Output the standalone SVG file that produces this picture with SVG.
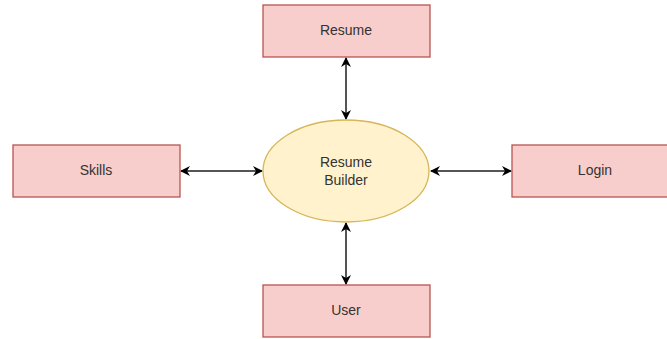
<svg xmlns="http://www.w3.org/2000/svg" width="667" height="339" viewBox="0 0 667 339">
<defs>
<style>
.box{fill:#f8cecc;stroke:#b85450;stroke-width:1.3}
.proc{fill:#fff2cc;stroke:#d6b656;stroke-width:1.3}
.lbl{font-family:"Liberation Sans",Arial,sans-serif;font-size:14px;fill:#333;text-anchor:middle;dominant-baseline:central}
.conn{stroke:#555;stroke-width:2;fill:none;marker-start:url(#ah);marker-end:url(#ah)}
</style>
<marker id="ah" viewBox="0 0 10 10" refX="9" refY="5" markerWidth="10" markerHeight="10" orient="auto-start-reverse" markerUnits="userSpaceOnUse">
<path d="M0,0 L10,5 L0,10 L3,5 Z" fill="#000"/>
</marker>
</defs>
<rect width="667" height="339" fill="#fff"/>
<g id="connectors">
<line class="conn" x1="346" y1="58" x2="346" y2="119"/>
<line class="conn" x1="181" y1="171" x2="262" y2="171"/>
<line class="conn" x1="431" y1="171" x2="511" y2="171"/>
<line class="conn" x1="346" y1="223" x2="346" y2="284"/>
</g>
<g id="resume"><rect class="box" x="263" y="5" width="167" height="52"/><text class="lbl" x="346" y="30">Resume</text></g>
<g id="skills"><rect class="box" x="13" y="145" width="167" height="52"/><text class="lbl" x="96" y="170">Skills</text></g>
<g id="login"><rect class="box" x="512" y="145" width="167" height="52"/><text class="lbl" x="595" y="170">Login</text></g>
<g id="user"><rect class="box" x="263" y="285" width="167" height="52"/><text class="lbl" x="346" y="310">User</text></g>
<g id="resume-builder"><ellipse class="proc" cx="346" cy="171" rx="83" ry="51"/><text class="lbl" x="346" y="162">Resume</text><text class="lbl" x="346" y="180">Builder</text></g>
</svg>
